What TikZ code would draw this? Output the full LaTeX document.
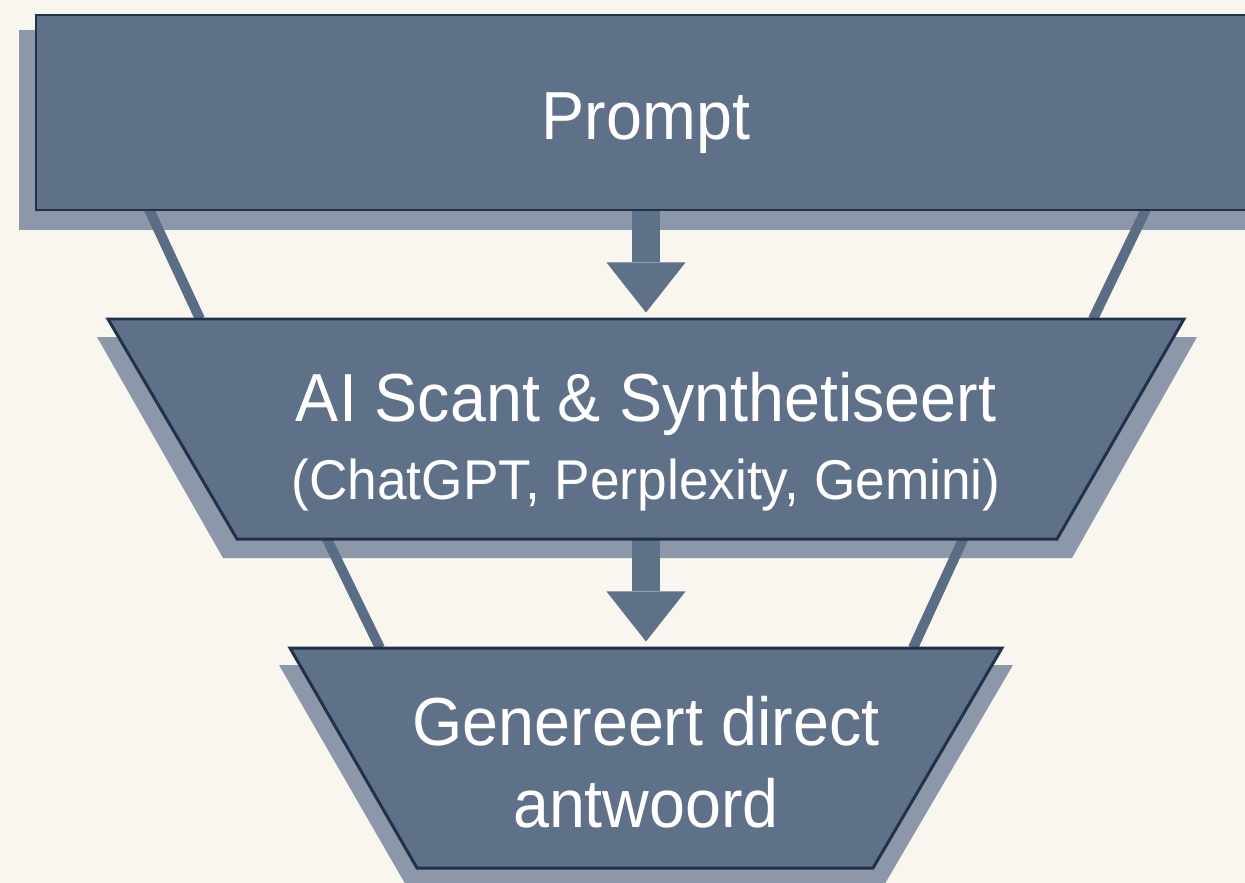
\documentclass[tikz,border=0pt]{standalone}
\usepackage{xcolor}
\usepackage{fontspec}
\setmainfont{Liberation Sans}[FakeStretch=0.95]
\usetikzlibrary{arrows.meta}
\definecolor{paper}{HTML}{F8F6EE}
\definecolor{stagefill}{HTML}{5F7189}
\definecolor{stageedge}{HTML}{22314A}
\definecolor{stageshade}{HTML}{8C98A9}
\definecolor{railcol}{HTML}{5B6D85}
\newcommand{\quadpath}[4]% top left, top right, bottom right, bottom left
{(#1) -- (#2) -- (#3) -- (#4) -- cycle
}
\newcommand{\subfont}{\fontsize{31.9}{44.4}\selectfont}

\begin{document}
\begin{tikzpicture}[x=0.02cm,y=-0.02cm,
  stage/.style={fill=stagefill,draw=stageedge,line width=1.7pt,line join=miter},
  shade/.style={fill=stageshade},
  rail/.style={draw=railcol,line width=5.7pt},
  flowarrow/.style={draw=stagefill,line width=15.4pt,
    -{Triangle[width=45pt,length=28.5pt,line width=0pt]},shorten >=3.7pt},
  stagetext/.style={text=white,inner sep=0pt,font=\fontsize{38.7}{44.4}\selectfont}]
  \fill[paper] (0,0) rectangle (1245,883);
  \useasboundingbox (0,0) rectangle (1245,883);
  % shadows
  \fill[shade] (19,30) rectangle (1265,230);
  \fill[shade] \quadpath{97,337}{1197,337}{1072,558}{223,558};
  \fill[shade] \quadpath{279,665}{1013,665}{883,887}{407,887};
  % connector ends
  \coordinate (prompt-s) at (646,205);
  \coordinate (scan-n) at (646,319);
  \coordinate (scan-s) at (646,535);
  \coordinate (answer-n) at (646,648);
  \coordinate (prompt-sw) at (147,205);
  \coordinate (prompt-se) at (1148,205);
  \coordinate (scan-nw) at (200,319);
  \coordinate (scan-ne) at (1093,319);
  \coordinate (scan-sw) at (325,535);
  \coordinate (scan-se) at (965,535);
  \coordinate (answer-nw) at (380,648);
  \coordinate (answer-ne) at (913,648);
  \draw[rail] (prompt-sw) -- (scan-nw);
  \draw[rail] (prompt-se) -- (scan-ne);
  \draw[rail] (scan-sw) -- (answer-nw);
  \draw[rail] (scan-se) -- (answer-ne);
  \draw[flowarrow] (prompt-s) -- (scan-n);
  \draw[flowarrow] (scan-s) -- (answer-n);
  % stages
  \draw[stage] (36,15) rectangle (1265,210);
  \draw[stage] \quadpath{108,319}{1184,319}{1057,539}{237,539};
  \draw[stage] \quadpath{290,648}{1002,648}{873,868}{417,868};
  \node[stagetext,anchor=base] (prompt) at (646,139) {Prompt};
  \node[stagetext,align=center] (scan) at (646,442)
    {AI Scant \& Synthetiseert\\{\subfont (ChatGPT, Perplexity, Gemini)}};
  \node[stagetext,align=center,font=\fontsize{38.7}{46.7}\selectfont] (answer) at (646,762)
    {Genereert direct\\antwoord};
\end{tikzpicture}
\end{document}
